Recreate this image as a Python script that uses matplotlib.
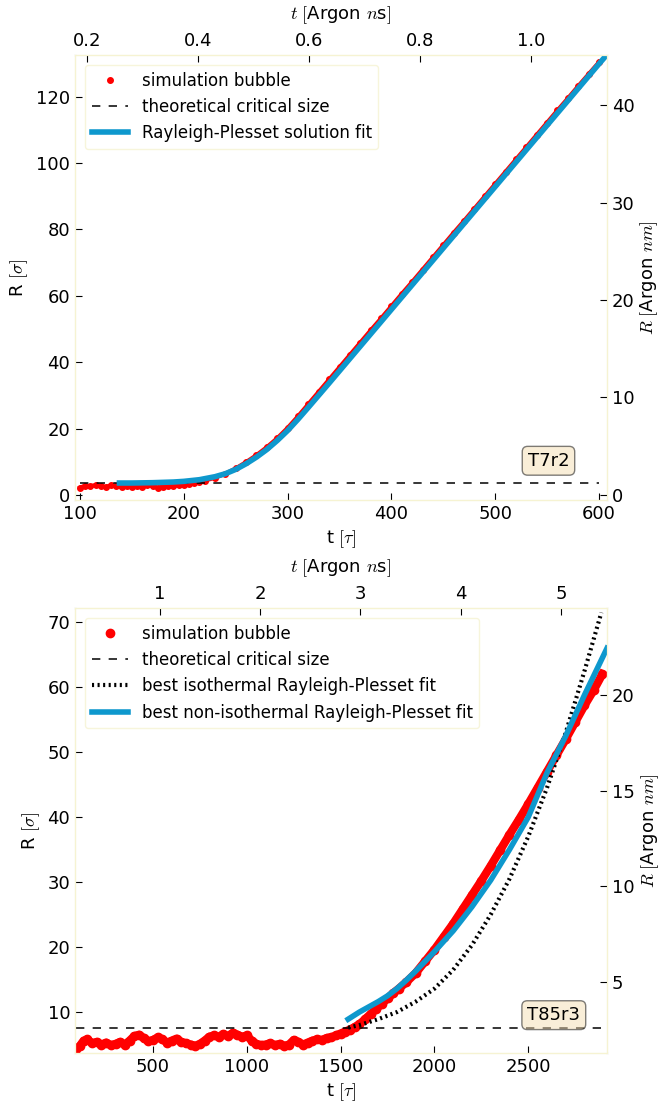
import numpy as np
import matplotlib
matplotlib.use("Agg")
import matplotlib.pyplot as plt

plt.rcParams['font.family'] = ['DejaVu Sans']
plt.rcParams['mathtext.fontset'] = 'cm'
plt.rcParams['font.size'] = 12
plt.rcParams['lines.scale_dashes'] = False

SIGMA_NM = 0.3405     # argon sigma in nm
TAU_NS = 0.00187      # argon tau in ns

SPINE = '#f6f3d2'
BLUE = '#0e98cd'

# --- T7r2 run ---
t7_sim = [100, 105, 110, 115, 120, 125, 130, 135, 140, 145, 150, 155, 160, 165, 170,
          175, 180, 185, 190, 195, 200, 205, 210, 215, 220, 230, 240, 250, 260, 270,
          280, 290, 300, 310, 320, 330, 340, 350, 360, 370, 380, 390, 400, 410, 420,
          430, 440, 450, 460, 470, 480, 490, 500, 510, 520, 530, 540, 550, 560, 570,
          580, 590, 600]
R7_sim = [2.2, 2.8, 2.6, 3.0, 2.7, 2.4, 2.9, 2.6, 2.3, 2.8, 2.5, 2.7, 2.4, 2.9, 2.6,
          2.2, 2.5, 2.8, 2.6, 3.0, 2.9, 3.2, 3.5, 3.9, 4.3, 5.2, 6.4, 8.0, 9.9, 12.0,
          14.4, 17.1, 20.2, 23.7, 27.4, 31.1, 34.8, 38.5, 42.2, 45.9, 49.6, 53.2, 56.9,
          60.6, 64.2, 67.9, 71.6, 75.3, 79.0, 82.6, 86.3, 90.0, 93.7, 97.4, 101.1,
          104.8, 108.5, 112.2, 115.9, 119.5, 123.2, 126.8, 130.4]
t7_fit = [138, 150, 160, 170, 180, 190, 200, 215, 230, 240, 250, 260, 270, 280, 290,
          300, 310, 320, 340, 360, 380, 400, 420, 440, 460, 480, 500, 520, 540, 560,
          580, 600, 608]
R7_fit = [3.6, 3.6, 3.65, 3.7, 3.8, 3.9, 4.1, 4.6, 5.5, 6.4, 7.7, 9.4, 11.4, 13.7, 16.4,
          19.4, 22.8, 26.4, 33.7, 41.1, 48.5, 55.9, 63.3, 70.7, 78.1, 85.5, 92.9, 100.3,
          107.7, 115.1, 122.5, 129.9, 132.8]
R7_crit = 3.7

# --- T85r3 run ---
t85_sim = [90, 110, 130, 150, 175, 200, 225, 250, 275, 300, 325, 350, 375, 400, 425,
           450, 475, 500, 525, 550, 575, 600, 625, 650, 675, 700, 725, 750, 775, 800,
           825, 850, 875, 900, 925, 950, 975, 1000, 1025, 1050, 1075, 1100, 1125, 1150,
           1175, 1200, 1225, 1250, 1275, 1300, 1325, 1350, 1375, 1400, 1425, 1450, 1475,
           1500, 1525, 1550, 1575, 1600, 1630, 1660, 1690, 1720, 1750, 1780, 1810, 1850,
           1900, 1950, 2000, 2050, 2100, 2150, 2200, 2250, 2300, 2350, 2400, 2450, 2500,
           2550, 2600, 2650, 2700, 2750, 2800, 2850, 2895]
R85_sim = [4.3, 4.8, 5.6, 5.8, 5.2, 5.4, 5.0, 5.3, 4.9, 5.1, 5.4, 5.0, 5.6, 6.3, 6.5,
           6.0, 5.5, 5.7, 6.1, 5.8, 5.3, 5.6, 5.9, 5.4, 5.2, 5.0, 4.8, 5.1, 5.6, 6.2,
           6.4, 6.2, 6.6, 6.3, 6.8, 6.5, 6.2, 6.4, 5.6, 5.1, 4.9, 5.0, 5.2, 4.9, 5.1,
           4.8, 5.0, 5.7, 5.4, 5.0, 5.3, 5.6, 5.8, 5.7, 6.0, 6.1, 6.4, 6.7, 7.0, 7.3,
           7.7, 8.1, 8.9, 9.7, 10.5, 11.3, 12.1, 12.9, 13.6, 14.6, 16.0, 17.8, 19.6,
           21.6, 23.6, 25.8, 28.0, 30.2, 32.5, 34.9, 37.3, 39.6, 42.0, 44.5, 47.0, 49.5,
           52.0, 54.6, 57.2, 59.6, 62.0]
t85_iso = [1540, 1600, 1700, 1800, 1900, 2000, 2100, 2200, 2300, 2400, 2500, 2600,
           2700, 2800, 2890]
R85_iso = [7.6, 8.0, 8.9, 10.0, 11.6, 13.6, 16.5, 20.3, 25.0, 30.5, 37.0, 44.5, 53.0,
           62.5, 71.5]
t85_fit = [1540, 1600, 1650, 1700, 1750, 1800, 1850, 1900, 1950, 2000, 2100, 2200,
           2300, 2400, 2500, 2600, 2700, 2800, 2920]
R85_fit = [8.9, 10.0, 10.8, 11.6, 12.5, 13.6, 14.9, 16.3, 17.8, 19.3, 22.5, 26.2, 30.3,
           35.0, 40.0, 46.8, 52.5, 58.8, 66.0]
R85_crit = 7.5


def style_axes(ax):
    for sp in ax.spines.values():
        sp.set_color(SPINE)
    ax.tick_params(direction='in', length=5, width=0.8, colors='black', labelsize=13)


def add_twins(ax, xlim, ylim, xticks, yticks):
    ax.set_xlim(*xlim)
    ax.set_ylim(*ylim)
    top = ax.twiny()
    top.set_xlim(xlim[0] * TAU_NS, xlim[1] * TAU_NS)
    top.set_xticks(xticks)
    top.set_xlabel(r'$t\ [$Argon $n$s$]$', labelpad=9, fontsize=13)
    right = ax.twinx()
    right.set_ylim(ylim[0] * SIGMA_NM, ylim[1] * SIGMA_NM)
    right.set_yticks(yticks)
    right.set_ylabel(r'$R\ [$Argon $nm]$', labelpad=3, fontsize=13)
    for a in (top, right):
        style_axes(a)
    top.xaxis.set_major_formatter(plt.FormatStrFormatter('%g' if xticks[0] >= 1 else '%.1f'))


fig = plt.figure(figsize=(6.61, 11.09), dpi=100)
ax1 = fig.add_axes([0.1135, 0.5492, 0.8048, 0.4013])
ax2 = fig.add_axes([0.1135, 0.0505, 0.8048, 0.4013])

# top panel
ax1.plot(t7_sim, R7_sim, '-', color='red', lw=3, zorder=2)
ax1.plot(t7_sim, R7_sim, 'o', color='red', ms=4, mec='red', label='simulation bubble', zorder=2)
ax1.plot([t7_sim[0], t7_sim[-1]], [R7_crit, R7_crit], color='black', lw=1.1,
         dashes=(6, 6), label='theoretical critical size', zorder=3)
ax1.plot(t7_fit, R7_fit, color=BLUE, lw=4, label='Rayleigh-Plesset solution fit', zorder=4)
ax1.set_xlabel(r't $[\tau]$', fontsize=13)
ax1.set_ylabel(r'R $[\sigma]$', fontsize=13)
ax1.set_xticks([100, 200, 300, 400, 500, 600])
ax1.set_yticks(np.arange(0, 121, 20))
style_axes(ax1)
leg = ax1.legend(loc='upper left', numpoints=1, fontsize=12, handlelength=2.2,
                 borderaxespad=0.6)
leg.get_frame().set_edgecolor(SPINE)
ax1.text(0.89, 0.088, 'T7r2', transform=ax1.transAxes, ha='center', va='center',
         fontsize=13, bbox=dict(boxstyle='round', facecolor='wheat', alpha=0.5))
add_twins(ax1, (95.2, 607.7), (-1.5, 132.6), [0.2, 0.4, 0.6, 0.8, 1.0], [0, 10, 20, 30, 40])

# bottom panel
ax2.plot(t85_sim, R85_sim, '-', color='red', lw=6, zorder=2)
ax2.plot(t85_sim, R85_sim, 'o', color='red', ms=6, mec='red', label='simulation bubble', zorder=2)
ax2.plot([t85_sim[0], t85_sim[-1]], [R85_crit, R85_crit], color='black', lw=1.1,
         dashes=(6, 6), label='theoretical critical size', zorder=3)
ax2.plot(t85_iso, R85_iso, color='black', lw=3, dashes=(1.5, 2.5),
         label='best isothermal Rayleigh-Plesset fit', zorder=3)
ax2.plot(t85_fit, R85_fit, color=BLUE, lw=4, label='best non-isothermal Rayleigh-Plesset fit',
         zorder=4)
ax2.set_xlabel(r't $[\tau]$', fontsize=13)
ax2.set_ylabel(r'R $[\sigma]$', fontsize=13)
ax2.set_xticks([500, 1000, 1500, 2000, 2500])
ax2.set_yticks(np.arange(10, 71, 10))
style_axes(ax2)
leg = ax2.legend(loc='upper left', numpoints=1, fontsize=12, handlelength=2.2,
                 borderaxespad=0.6)
leg.get_frame().set_edgecolor(SPINE)
ax2.text(0.90, 0.085, 'T85r3', transform=ax2.transAxes, ha='center', va='center',
         fontsize=13, bbox=dict(boxstyle='round', facecolor='wheat', alpha=0.5))
add_twins(ax2, (84, 2920), (3.7, 72.2), [1, 2, 3, 4, 5], [5, 10, 15, 20])

fig.savefig('out.png', dpi=100)
